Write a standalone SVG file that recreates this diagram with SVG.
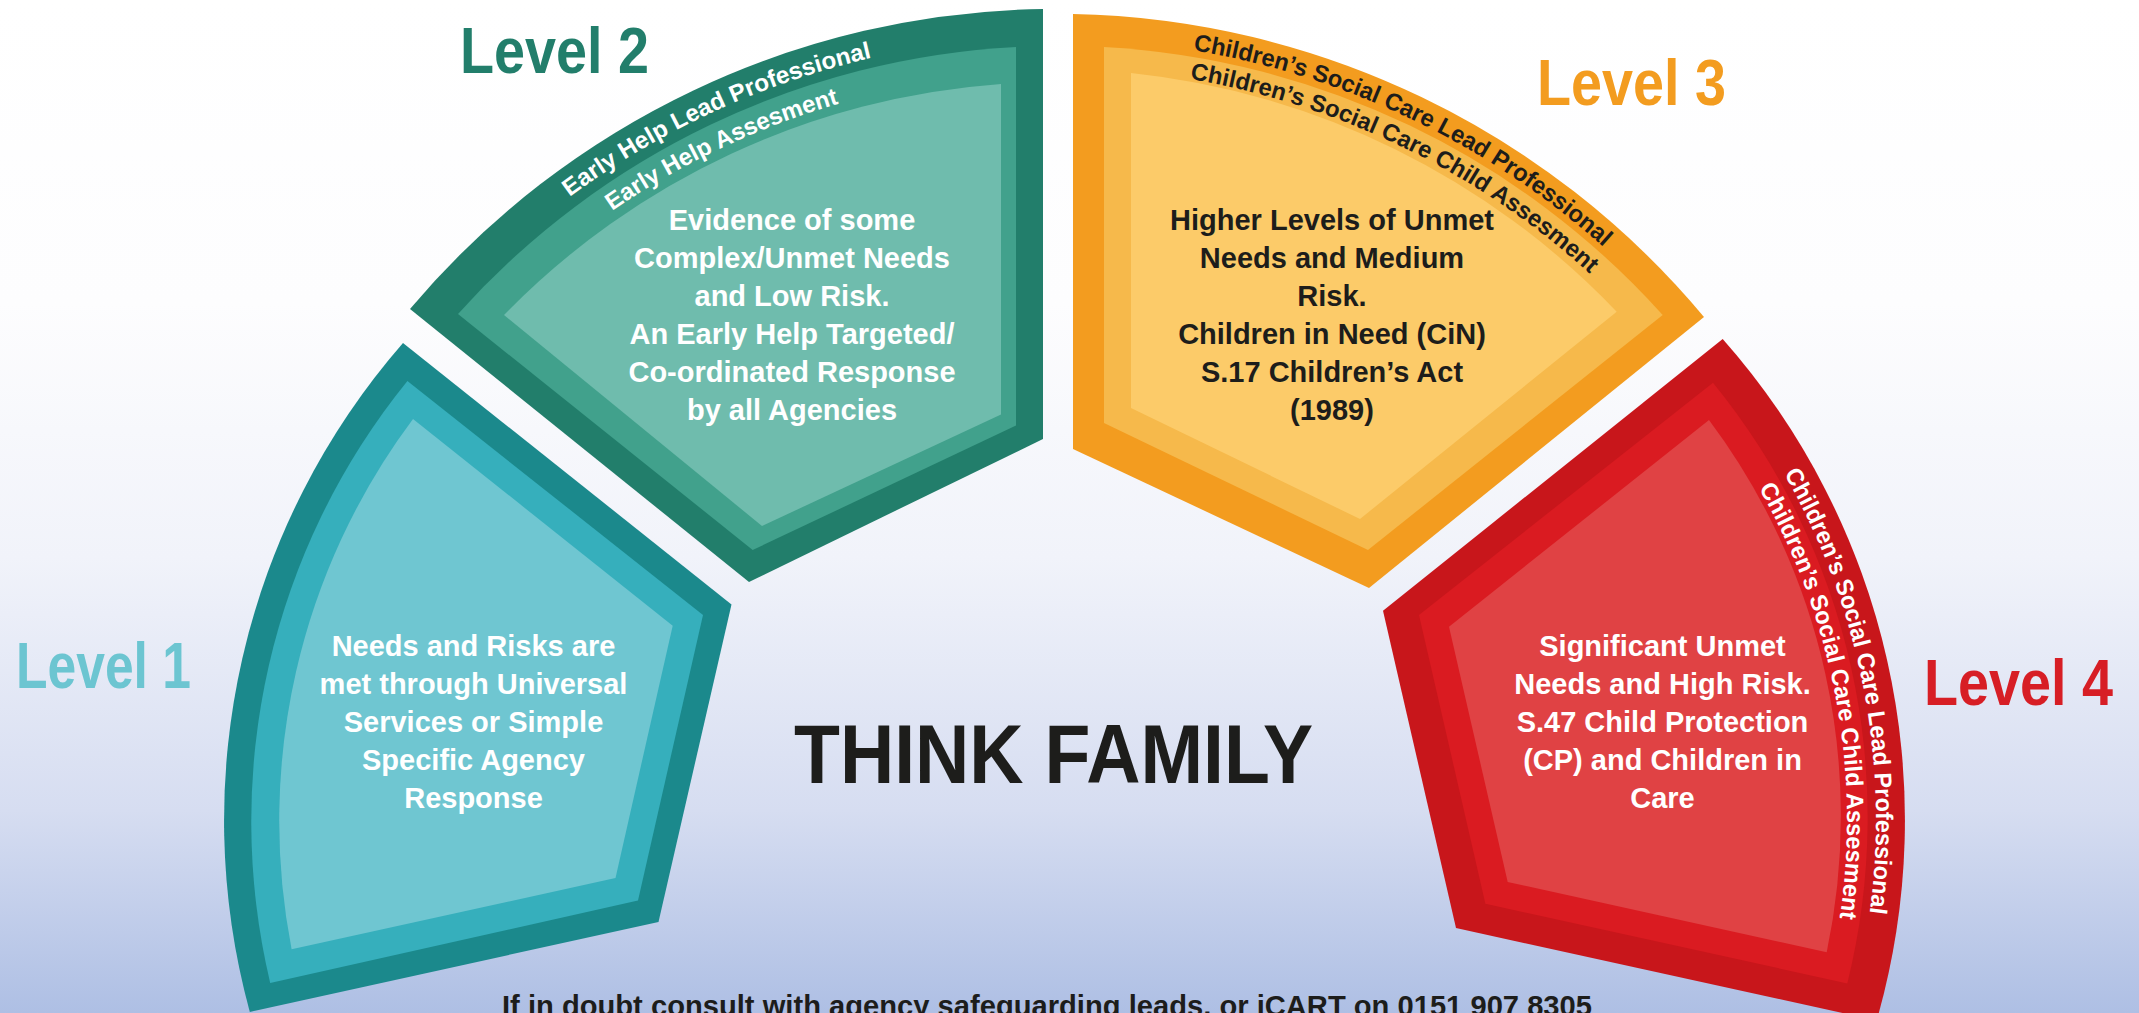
<svg xmlns="http://www.w3.org/2000/svg" width="2139" height="1013" viewBox="0 0 2139 1013">
<defs>
<linearGradient id="bg" x1="0" y1="0" x2="0" y2="1013" gradientUnits="userSpaceOnUse">
<stop offset="0" stop-color="#FFFFFF"/>
<stop offset="0.3" stop-color="#FDFDFE"/>
<stop offset="0.55" stop-color="#F1F3FA"/>
<stop offset="0.8" stop-color="#D6DDF1"/>
<stop offset="1" stop-color="#AEBFE4"/>
</linearGradient>
<path id="p2a" d="M569.6,197 A816,816 0 0 1 913.3,49.4"/>
<path id="p2b" d="M612.1,211 A780,780 0 0 1 892.8,90.1"/>
<path id="p3a" d="M1193.1,50.2 A819,819 0 0 1 1626.9,268.9"/>
<path id="p3b" d="M1189.8,79.1 A790,790 0 0 1 1616.6,299.4"/>
<path id="p4a" d="M1783.9,473.6 A697,697 0 0 1 1865.4,941"/>
<path id="p4b" d="M1758.7,488 A668,668 0 0 1 1834.7,947.5"/>
<style>
text{font-family:"Liberation Sans",Arial,sans-serif;font-weight:bold}
.lvl{font-size:65px}
.body{font-size:29px;text-anchor:middle}
.band{font-size:24px}
.w{fill:#FFFFFF}
.k{fill:#1D1D1B}
</style>
</defs>
<rect x="0" y="0" width="2139" height="1013" fill="url(#bg)"/>
<g id="connectors"/>
<g id="level1">
<path d="M403,343 L731.5,604.4 L658.5,922 L249.8,1011.9 A726,726 0 0 1 403,343 Z" fill="#1B898C"/>
<path d="M407.4,381 L703,615 L638,900.6 L270.2,983 A699,699 0 0 1 407.4,381 Z" fill="#36AFBC"/>
<path d="M413,419 L672.7,625.7 L615.5,878 L291.6,949.3 A671,671 0 0 1 413,419 Z" fill="#6FC6D1"/>
<text class="body w"><tspan x="473.5" y="656">Needs and Risks are</tspan><tspan x="473.5" y="694">met through Universal</tspan><tspan x="473.5" y="732">Services or Simple</tspan><tspan x="473.5" y="770">Specific Agency</tspan><tspan x="473.5" y="808">Response</tspan></text>
<text class="lvl" x="16" y="688" fill="#6CC5D1" textLength="175" lengthAdjust="spacingAndGlyphs">Level 1</text>
</g>
<g id="level2">
<path d="M1043,9 L1043,439 L749,582 L410,309 A844,844 0 0 1 1043,9 Z" fill="#227E6B"/>
<path d="M1016,47 L1016,425.5 L752.7,550 L458,314 A806,806 0 0 1 1016,47 Z" fill="#41A18C"/>
<path d="M1001,84 L1001,414.5 L762,526 L504,315 A770,770 0 0 1 1001,84 Z" fill="#6FBCAD"/>
<text class="band w"><textPath href="#p2a" textLength="335" lengthAdjust="spacingAndGlyphs">Early Help Lead Professional</textPath></text>
<text class="band w"><textPath href="#p2b" textLength="252" lengthAdjust="spacingAndGlyphs">Early Help Assesment</textPath></text>
<text class="body w"><tspan x="792" y="230">Evidence of some</tspan><tspan x="792" y="268">Complex/Unmet Needs</tspan><tspan x="792" y="306">and Low Risk.</tspan><tspan x="792" y="344">An Early Help Targeted/</tspan><tspan x="792" y="382">Co-ordinated Response</tspan><tspan x="792" y="420">by all Agencies</tspan></text>
<text class="lvl" x="460" y="73" fill="#227E6B" textLength="189" lengthAdjust="spacingAndGlyphs">Level 2</text>
</g>
<g id="level3">
<path d="M1073,14 A844,844 0 0 1 1704,317 L1369,588 L1073,449 Z" fill="#F39C1F"/>
<path d="M1104,47 A812,812 0 0 1 1662.7,315 L1368,550 L1104,423 Z" fill="#F6B94B"/>
<path d="M1131,73 A785,785 0 0 1 1616.7,311.7 L1360,519 L1131,408 Z" fill="#FCCB69"/>
<text class="band k"><textPath href="#p3a" textLength="461" lengthAdjust="spacingAndGlyphs">Children’s Social Care Lead Professional</textPath></text>
<text class="band k"><textPath href="#p3b" textLength="451" lengthAdjust="spacingAndGlyphs">Children’s Social Care Child Assesment</textPath></text>
<text class="body k"><tspan x="1332" y="230">Higher Levels of Unmet</tspan><tspan x="1332" y="268">Needs and Medium</tspan><tspan x="1332" y="306">Risk.</tspan><tspan x="1332" y="344">Children in Need (CiN)</tspan><tspan x="1332" y="382">S.17 Children’s Act</tspan><tspan x="1332" y="420">(1989)</tspan></text>
<text class="lvl" x="1537" y="105" fill="#F39C1F" textLength="189" lengthAdjust="spacingAndGlyphs">Level 3</text>
</g>
<g id="level4">
<path d="M1722.7,339 A726,726 0 0 1 1876.7,1020.5 L1456,928 L1383,610.7 Z" fill="#C8161B"/>
<path d="M1713,382.7 A688,688 0 0 1 1847.3,983.4 L1485.4,903.8 L1419,615 Z" fill="#DA1B21"/>
<path d="M1709,420 A661,661 0 0 1 1826.7,952.2 L1507.7,882 L1449,626.7 Z" fill="#E04244"/>
<text class="band w"><textPath href="#p4a" textLength="456" lengthAdjust="spacingAndGlyphs">Children’s Social Care Lead Professional</textPath></text>
<text class="band w"><textPath href="#p4b" textLength="446" lengthAdjust="spacingAndGlyphs">Children’s Social Care Child Assesment</textPath></text>
<text class="body w"><tspan x="1662.5" y="656">Significant Unmet</tspan><tspan x="1662.5" y="694">Needs and High Risk.</tspan><tspan x="1662.5" y="732">S.47 Child Protection</tspan><tspan x="1662.5" y="770">(CP) and Children in</tspan><tspan x="1662.5" y="808">Care</tspan></text>
<text class="lvl" x="1924" y="705" fill="#D71E25" textLength="189" lengthAdjust="spacingAndGlyphs">Level 4</text>
</g>
<g id="title">
<text x="794" y="783" font-size="84" fill="#1D1D1B" textLength="519" lengthAdjust="spacingAndGlyphs">THINK FAMILY</text>
</g>
<g id="footer">
<text x="502" y="1016" font-size="29" fill="#1D1D1B" textLength="1090" lengthAdjust="spacingAndGlyphs">If in doubt consult with agency safeguarding leads, or iCART on 0151 907 8305</text>
</g>
</svg>
